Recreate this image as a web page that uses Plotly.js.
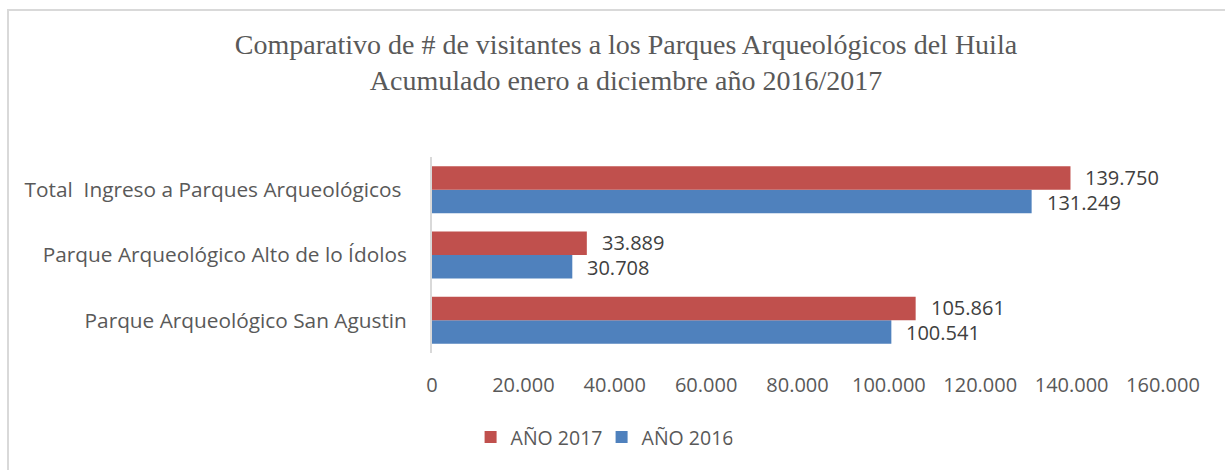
<!DOCTYPE html>
<html>
<head>
<meta charset="utf-8">
<script src="https://cdn.plot.ly/plotly-3.0.1.min.js"></script>
<style>
  html, body { margin: 0; padding: 0; background: #ffffff; }
  #chart { width: 1225px; height: 470px; }
</style>
</head>
<body>
<div id="chart"></div>
<script>
// ---- Data ----
const categories = [
  "Parque Arqueológico San Agustin",
  "Parque Arqueológico Alto de lo Ídolos",
  "Total\u00a0 Ingreso a Parques Arqueológicos\u00a0"
];
const values2016 = [100541, 30708, 131249];
const values2017 = [105861, 33889, 139750];
const seriesNames = ["AÑO 2016", "AÑO 2017"];
const titleLines = [
  "Comparativo de # de visitantes a los Parques Arqueológicos del Huila",
  "Acumulado enero a diciembre año 2016/2017"
];

// ---- Style ----
const BLUE = "#4F81BD";
const RED = "#C0504D";
const TEXT = "#595959";
const LABEL = "#404040";
const FONT = "Open Sans, Lato, sans-serif";

function fmt(v) {
  return String(v).replace(/\B(?=(\d{3})+(?!\d))/g, ".");
}

const traces = [
  {
    type: "bar", orientation: "h", name: seriesNames[0],
    y: categories, x: values2016,
    marker: { color: BLUE },
    hoverinfo: "none"
  },
  {
    type: "bar", orientation: "h", name: seriesNames[1],
    y: categories, x: values2017,
    marker: { color: RED },
    hoverinfo: "none"
  }
];

const annotations = [];
categories.forEach((c, i) => {
  annotations.push({
    x: values2016[i], y: c, xref: "x", yref: "y",
    text: fmt(values2016[i]), showarrow: false,
    xanchor: "left", yanchor: "middle", xshift: 14, yshift: -12.5,
    borderpad: 0,
    font: { family: FONT, size: 20, color: LABEL }
  });
  annotations.push({
    x: values2017[i], y: c, xref: "x", yref: "y",
    text: fmt(values2017[i]), showarrow: false,
    xanchor: "left", yanchor: "middle", xshift: 14, yshift: 12.5,
    borderpad: 0,
    font: { family: FONT, size: 20, color: LABEL }
  });
});

const layout = {
  width: 1225, height: 470,
  paper_bgcolor: "#ffffff", plot_bgcolor: "#ffffff",
  separators: ",.",
  margin: { l: 432, r: 62, t: 157, b: 117, pad: 0 },
  title: {
    text: titleLines.join("<br>"),
    font: { family: "Liberation Serif, serif", size: 28, color: TEXT },
    xref: "container", x: 0.511, xanchor: "center",
    yref: "container", y: 0.885, yanchor: "top"
  },
  barmode: "group",
  bargap: 0.28,
  bargroupgap: 0,
  showlegend: true,
  legend: {
    orientation: "h", traceorder: "reversed",
    x: 0.232, xanchor: "center", y: -0.43, yanchor: "middle",
    font: { family: FONT, size: 19.5, color: TEXT },
    itemwidth: 30,
    entrywidth: 86, entrywidthmode: "pixels"
  },
  xaxis: {
    range: [0, 160000], dtick: 20000, tick0: 0,
    tickformat: ",d",
    showgrid: false, zeroline: false, showline: false,
    ticks: "", ticklabelstandoff: 18,
    tickfont: { family: FONT, size: 20, color: TEXT },
    fixedrange: true
  },
  yaxis: {
    type: "category",
    showgrid: false, zeroline: false,
    showline: true, linecolor: "#d9d9d9", linewidth: 2,
    ticks: "", ticklabelstandoff: 19,
    tickfont: { family: FONT, size: 20.8, color: TEXT },
    fixedrange: true
  },
  shapes: [
    {
      type: "rect", xref: "paper", yref: "paper",
      x0: (8 - 432) / 731, x1: 2, y0: -2, y1: (353 - 10) / 196,
      line: { color: "#d9d9d9", width: 2 }, fillcolor: "rgba(0,0,0,0)",
      layer: "below"
    }
  ],
  annotations: annotations
};

Plotly.newPlot("chart", traces, layout, { displayModeBar: false, staticPlot: true });
</script>
</body>
</html>
